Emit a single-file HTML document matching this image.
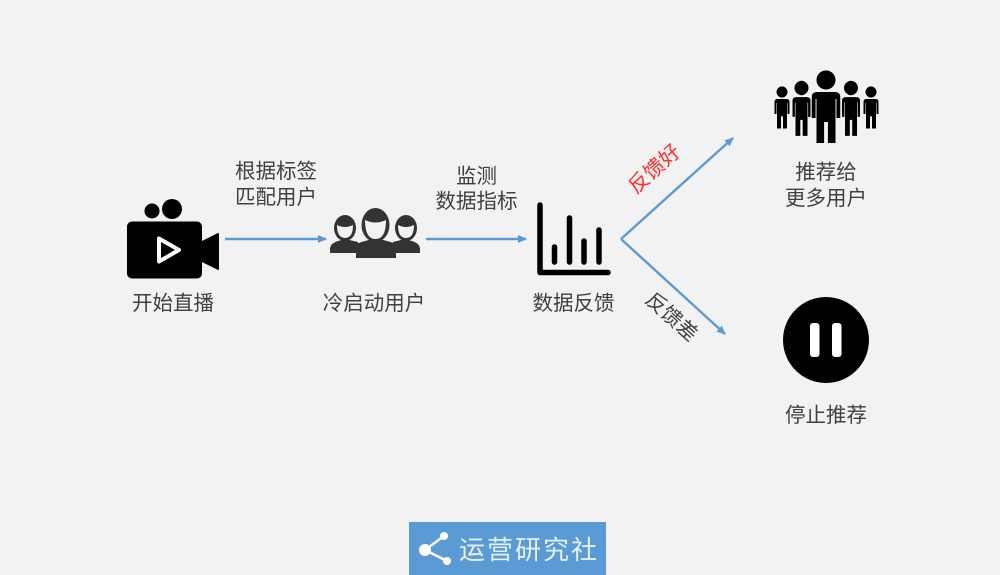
<!DOCTYPE html>
<html><head><meta charset="utf-8"><style>
html,body{margin:0;padding:0;background:#f2f2f2}
svg{display:block}
text{font-family:"Liberation Sans","Noto Sans CJK SC",sans-serif;font-size:20.5px;fill:#404040;text-anchor:middle}
</style></head><body>
<svg width="1000" height="575" viewBox="0 0 1000 575" xmlns="http://www.w3.org/2000/svg">
<defs>
<marker id="a" markerWidth="9" markerHeight="8" refX="8" refY="4" orient="auto" markerUnits="userSpaceOnUse"><path d="M0 0L9 4L0 8Z" fill="#5b9bd5"/></marker>
<g id="h"><circle cx="0" cy="0" r="9.500"/><path d="M-15 17Q-15 12-9 12L9 12Q15 12 15 17L15 38L11 38L11 19L10 19L10 63L2 63L2 42L-2 42L-2 63L-10 63L-10 19L-11 19L-11 38L-15 38Z"/></g>
</defs>
<rect width="1000" height="575" fill="#f2f2f2"/>

<!-- camera -->
<circle cx="152" cy="211" r="7.500"/><circle cx="172" cy="209" r="10"/>
<rect x="127" y="221.500" width="75" height="57" rx="5"/>
<path d="M202 241L218 233Q219 233 219 235L219 268Q219 270 218 270L202 262Z"/>
<path d="M159 238.500L179 250L159 261.500Z" fill="none" stroke="#fff" stroke-width="4" stroke-linejoin="round"/>

<!-- users -->
<g fill="#333">
<path d="M330 253L330 248Q331 243 338 241L345 239L358 242L358 253Z"/>
<path d="M420 253L420 248Q419 243 412 241L405 239L393 242L393 253Z"/>
<path d="M356 258L356 245Q357 243 365 241L376 238L387 241Q395 243 396 245L396 258Z"/>
<ellipse cx="345" cy="228" rx="11" ry="13"/>
<ellipse cx="406" cy="228" rx="11" ry="13"/>
<ellipse cx="375.500" cy="225" rx="14" ry="17"/>
</g>
<g fill="#f2f2f2">
<path d="M337 225Q345 229 353 225Q353 238 345 238Q337 238 337 225Z"/>
<path d="M398 225Q406 229 414 225Q414 238 406 238Q398 238 398 225Z"/>
<path d="M365 220Q375.500 225 386 220Q386 239 375.500 239Q365 239 365 220Z"/>
</g>

<!-- chart -->
<g fill="none" stroke="#000" stroke-linecap="round">
<path d="M540 205V272.500H608" stroke-width="5.500" stroke-linejoin="round"/>
<path d="M554.500 247V262M569.500 218V262M584 241V262M599 230V262" stroke-width="5.500"/>
</g>

<!-- crowd -->
<g fill="#000">
<use href="#h" transform="translate(782 92) scale(.5 .58)"/>
<use href="#h" transform="translate(871 92) scale(.5 .58)"/>
<use href="#h" transform="translate(801.500 88) scale(.6 .76)"/>
<use href="#h" transform="translate(851 88) scale(.6 .76)"/>
<use href="#h" transform="translate(826 80) scale(.95 1)"/>
</g>
<g fill="#000">
<circle cx="782" cy="92" r="5.500"/><circle cx="871" cy="92" r="5.500"/>
<circle cx="801.500" cy="88" r="7"/><circle cx="851" cy="88" r="7"/>
<circle cx="826" cy="80" r="9.500"/>
</g>

<!-- pause -->
<circle cx="826" cy="340" r="43"/>
<rect x="810" y="323" width="9.500" height="34" rx="3" fill="#fff"/>
<rect x="832" y="323" width="9.500" height="34" rx="3" fill="#fff"/>

<!-- connectors -->
<g stroke="#5b9bd5" stroke-width="2.400" fill="none">
<line x1="225" y1="239" x2="326" y2="239" marker-end="url(#a)"/>
<line x1="426" y1="239" x2="526" y2="239" marker-end="url(#a)"/>
<line x1="621" y1="239" x2="733" y2="138" marker-end="url(#a)"/>
<line x1="621" y1="239" x2="725" y2="334" marker-end="url(#a)"/>
</g>

<!-- labels -->
<text x="173" y="310">开始直播</text>
<text x="276" y="178">根据标签</text>
<text x="276" y="204">匹配用户</text>
<text x="374" y="310">冷启动用户</text>
<text x="476.500" y="183">监测</text>
<text x="476.500" y="208">数据指标</text>
<text x="573.500" y="310">数据反馈</text>
<text x="826" y="179">推荐给</text>
<text x="826" y="205">更多用户</text>
<text x="826" y="422">停止推荐</text>
<text transform="translate(659 174) rotate(-42)" style="fill:#ff2d2d">反馈好</text>
<text transform="translate(667 322) rotate(42)">反馈差</text>

<!-- logo -->
<rect x="409" y="522" width="197" height="53" fill="#5b9bd5"/>
<path d="M444 536L425 550L447 561" fill="none" stroke="#fff" stroke-width="2.500"/>
<circle cx="425" cy="550" r="6" fill="#fff"/><circle cx="444" cy="536" r="4" fill="#fff"/><circle cx="447" cy="561" r="4" fill="#fff"/>
<text x="529" y="559" style="font-size:26px;letter-spacing:2px;fill:#fff;opacity:.85">运营研究社</text>
</svg>
</body></html>
